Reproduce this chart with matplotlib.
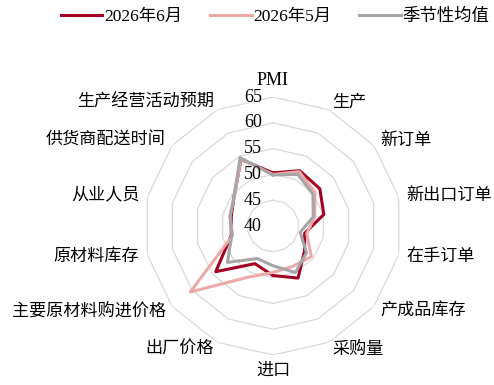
import matplotlib
matplotlib.use('Agg')
import matplotlib.pyplot as plt
import numpy as np

plt.rcParams['font.family'] = ['Liberation Serif', 'Noto Sans CJK SC']

# 指标
categories = ['PMI', '生产', '新订单', '新出口订单', '在手订单', '产成品库存', '采购量',
              '进口', '出厂价格', '主要原材料购进价格', '原材料库存', '从业人员',
              '供货商配送时间', '生产经营活动预期']
jun_2026 = [50.3, 51.9, 51.6, 50.1, 46.3, 47.8, 51.2, 49.6, 48.1, 54.2, 48.3, 48.3, 49.6, 54.3]
may_2026 = [50.0, 51.7, 50.4, 48.3, 46.7, 49.5, 48.7, 49.0, 51.0, 60.5, 48.0, 48.6, 49.5, 54.4]
seasonal = [49.9, 51.1, 49.9, 48.0, 45.4, 48.3, 50.0, 47.7, 47.0, 51.3, 48.2, 48.5, 49.6, 54.7]
series_names = ['2026年6月', '2026年5月', '季节性均值']
r_ticks = [40, 45, 50, 55, 60, 65]

colors = ['#A50021', '#EBA9A8', '#A6A6A6']

n = len(categories)
angles = np.arange(n) * 2 * np.pi / n
ang_closed = np.append(angles, angles[0])

fig = plt.figure(figsize=(4.94, 3.85), dpi=100)
ax = fig.add_axes([0.2915, 0.0779, 0.5223, 0.6701], projection='polar')
ax.set_theta_offset(np.pi / 2)
ax.set_theta_direction(-1)
ax.set_ylim(r_ticks[0], r_ticks[-1])
ax.grid(False)
ax.spines['polar'].set_visible(False)
ax.set_xticks([])
ax.set_yticks([])

# rejilla poligonal
for lvl in r_ticks[1:]:
    ax.plot(ang_closed, [lvl] * (n + 1), color='#D9D9D9', lw=0.9, zorder=1)

lines = []
for vals, c, name in zip([jun_2026, may_2026, seasonal], colors, series_names):
    ln, = ax.plot(ang_closed, list(vals) + [vals[0]], color=c, lw=2.2, label=name, zorder=3)
    lines.append(ln)

for t in r_ticks:
    ax.annotate(str(t), xy=(0, t), xytext=(-8, 0), textcoords='offset points',
                ha='right', va='center', fontsize=13, zorder=5)

for a, lab in zip(angles, categories):
    s = np.sin(a)
    c = np.cos(a)
    if s > 0.1:
        ha = 'left'
    elif s < -0.1:
        ha = 'right'
    else:
        ha = 'center'
    if c > 0.95:
        va = 'bottom'
    elif c < -0.95:
        va = 'top'
    else:
        va = 'center'
    ax.text(a, 66.55, lab, ha=ha, va=va, fontsize=12.3 if lab != 'PMI' else 13)

fig.legend(handles=lines, loc='center', bbox_to_anchor=(0.557, 0.956), ncol=3,
           frameon=False, fontsize=12.5, handlelength=2.4, handletextpad=0.1,
           columnspacing=1.6)

plt.savefig('out.png', dpi=100)
